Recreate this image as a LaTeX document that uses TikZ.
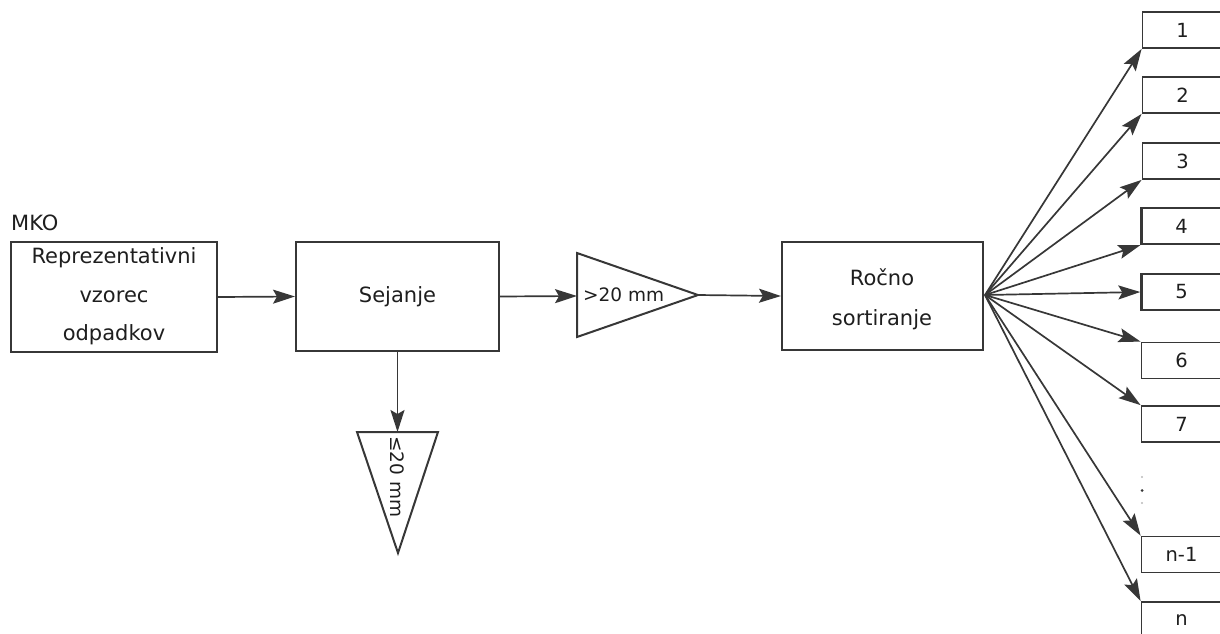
\documentclass[tikz,border=0pt]{standalone}
\usepackage{fontspec}
\setmainfont{DejaVu Sans}
\usetikzlibrary{arrows.meta}
\definecolor{ln}{RGB}{55,55,55}
\definecolor{tx}{RGB}{30,30,30}
\tikzset{
  box/.style={draw=ln, line width=2pt, rectangle, inner sep=0pt, text=tx},
  bigtxt/.style={font=\fontsize{21}{24}\selectfont, text=tx},
  tritxt/.style={font=\fontsize{18.5}{22}\selectfont, text=tx},
  smallbox/.style={draw=ln, line width=1.8pt, rectangle, inner sep=0pt, minimum width=80pt, minimum height=36pt, text=tx, font=\fontsize{19.5}{22}\selectfont},
  conn/.style={draw=ln, line width=1.7pt, -{Stealth[length=22pt,width=14pt,inset=4pt]}},
  tri/.style={draw=ln, line width=2pt, line join=miter},
}
\begin{document}
\begin{tikzpicture}[x=1pt,y=-1pt]
\useasboundingbox (0,0) rectangle (1220,633);
\clip (0,0) rectangle (1220,633);

% main boxes
\node[box, minimum width=206pt, minimum height=110pt] (rep) at (114,297) {};
\node[bigtxt] (rep1) at (114,258) {Reprezentativni};
\node[bigtxt] (rep2) at (114,297) {vzorec};
\node[bigtxt] (rep3) at (114,335) {odpadkov};
\node[bigtxt, anchor=west, inner sep=0pt] (mko) at (11,223) {MKO};

\node[box, bigtxt, minimum width=203pt, minimum height=109pt] (sej) at (397.5,296.5) {Sejanje};

\node[box, minimum width=201pt, minimum height=108pt] (roc) at (882.5,296) {};
\node[bigtxt] (roc1) at (882,277) {Ročno};
\node[bigtxt] (roc2) at (882,320) {sortiranje};

% triangle >20 mm
\coordinate (t1a) at (577,253);
\coordinate (t1b) at (577,337);
\coordinate (t1c) at (698,295);
\coordinate (t1in) at (577,296);
\draw[tri] (t1a) -- (t1c) -- (t1b) -- cycle;
\node[tritxt, anchor=west, inner sep=0pt] (t1txt) at (583,295) {>20 mm};

% triangle <=20 mm
\coordinate (t2a) at (357,432);
\coordinate (t2b) at (438,432);
\coordinate (t2c) at (398,553);
\coordinate (t2in) at (397.5,432);
\draw[tri] (t2a) -- (t2b) -- (t2c) -- cycle;
\node[tritxt, rotate=-90, anchor=west, inner sep=0pt] (t2txt) at (397,436) {≤20 mm};

% connectors
\draw[conn] (rep.east) -- (sej.west);
\draw[conn] (sej.east) -- (t1in);
\draw[conn] (t1c) -- (roc.west);
\draw[conn] (sej.south) -- (t2in);

% output boxes
\node[smallbox] (b1) at (1182.5,30) {1};
\node[smallbox] (b2) at (1182.5,95) {2};
\node[smallbox] (b3) at (1182.5,161) {3};
\node[smallbox, line width=2.3pt] (b4) at (1181.5,226) {4};
\node[smallbox, line width=2.3pt] (b5) at (1181.5,292) {5};
\node[smallbox] (b6) at (1181.5,360.5) {6};
\node[smallbox] (b7) at (1181.5,424) {7};
\node[smallbox] (bn1) at (1181.5,554.5) {n-1};
\node[smallbox] (bn) at (1181.5,620) {n};

% dots
\fill[gray!55] (1142,477) circle (1.1pt);
\fill[ln] (1142,490.5) circle (1.5pt);
\fill[gray!55] (1142,503) circle (1.1pt);

% fan
\coordinate (fan) at (985,295);
\draw[conn] (fan) -- (b1.south west);
\draw[conn] (fan) -- (b2.south west);
\draw[conn] (fan) -- (b3.south west);
\draw[conn] (fan) -- (b4.south west);
\draw[conn] (fan) -- (b5.west);
\draw[conn] (fan) -- (b6.north west);
\draw[conn] (fan) -- (b7.north west);
\draw[conn] (fan) -- (bn1.north west);
\draw[conn] (fan) -- (bn.north west);
\end{tikzpicture}
\end{document}
